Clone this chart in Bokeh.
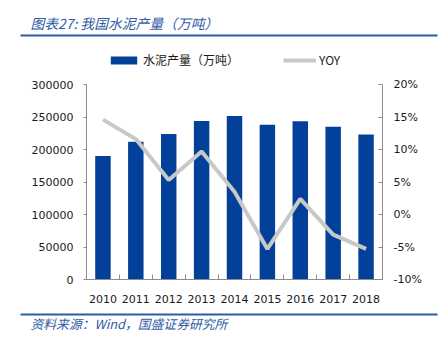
from bokeh.plotting import figure
from bokeh.layouts import column
from bokeh.models import (ColumnDataSource, Range1d, LinearAxis, FixedTicker,
                          PrintfTickFormatter, Legend, LegendItem, Label)
from bokeh.embed import file_html
from bokeh.resources import INLINE
import numpy as np

years = ["2010", "2011", "2012", "2013", "2014", "2015", "2016", "2017", "2018"]
production = [190000, 212000, 224000, 244000, 251500, 238000, 243500, 235000, 223000]
yoy = [14.6, 11.6, 5.3, 9.7, 3.5, -5.3, 2.4, -3.1, -5.3]
left_ticks = [0, 50000, 100000, 150000, 200000, 250000, 300000]
right_ticks = [-10, -5, 0, 5, 10, 15, 20]
title_text = "图表27: 我国水泥产量（万吨）"
source_text = "资料来源：Wind，国盛证券研究所"
series_names = ["水泥产量（万吨）", "YOY"]

BLUE = "#02409A"
GREY = "#C8C8C8"
AXIS = "#8C8C8C"
TXT = "#1A1A1A"
TITLE_BLUE = "#2E5AA6"
FONT = "DejaVu Sans"
CJK = "Noto Sans CJK SC"

W = 445
HEAD_H = 74
FOOT_H = 33
MAIN_H = 338 - HEAD_H - FOOT_H


def blank(h):
    f = figure(width=W, height=h, output_backend="svg", toolbar_location=None,
               x_range=Range1d(0, W), y_range=Range1d(h, 0),
               min_border=0, x_axis_type=None, y_axis_type=None, frame_align=False)
    f.outline_line_color = None
    f.xgrid.visible = False
    f.ygrid.visible = False
    return f


# ---------- header: title, rule, legend ----------
head = blank(HEAD_H)
head.add_layout(Label(x=30, y=22, text=title_text, text_font=CJK, text_font_style="italic",
                      text_font_size="13.8px", text_color=TITLE_BLUE, text_baseline="middle"))
head.segment(x0=[20], y0=[35], x1=[437], y1=[35], line_color=TITLE_BLUE, line_width=2)
dummy_bar = head.vbar(x=[np.nan], top=[np.nan], width=1, fill_color=BLUE, line_color=None)
dummy_line = head.line(x=[np.nan], y=[np.nan], line_color=GREY, line_width=4)
legend = Legend(items=[LegendItem(label=series_names[0], renderers=[dummy_bar]),
                       LegendItem(label=series_names[1], renderers=[dummy_line])],
                orientation="horizontal", location=(107, 6),
                glyph_width=33, glyph_height=10, label_standoff=3, spacing=44,
                padding=0, margin=0, border_line_color=None, background_fill_alpha=0,
                label_text_font=CJK, label_text_font_size="12px", label_text_color=TXT,
                label_height=10)
head.add_layout(legend, "center")

# ---------- main chart ----------
n = len(years)
xs = np.arange(n) + 0.5
src = ColumnDataSource(dict(x=xs, prod=production, yoy=yoy))

p = figure(width=W, height=MAIN_H, output_backend="svg", toolbar_location=None,
           x_range=Range1d(0, n), y_range=Range1d(0, 300000),
           min_border_left=86, min_border_right=63, min_border_top=10,
           min_border_bottom=MAIN_H - 205,
           x_axis_type=None, y_axis_type=None, frame_align=False)
p.outline_line_color = None
p.xgrid.visible = False
p.ygrid.visible = False
p.extra_y_ranges = {"yoy": Range1d(-10, 20)}

p.vbar(x="x", top="prod", width=0.47, source=src, fill_color=BLUE, line_color=None)
p.line(x="x", y="yoy", source=src, y_range_name="yoy", line_color=GREY, line_width=4)

xa = LinearAxis(ticker=FixedTicker(ticks=list(xs), minor_ticks=list(range(1, n))))
xa.major_label_overrides = {float(x): y for x, y in zip(xs, years)}
xa.major_tick_line_color = None
xa.minor_tick_in = 5
xa.minor_tick_out = 0
xa.minor_tick_line_color = AXIS
xa.axis_line_color = AXIS
xa.major_label_text_font = FONT
xa.major_label_text_font_size = "11px"
xa.major_label_text_color = TXT
xa.major_label_standoff = 9
p.add_layout(xa, "below")

ya = LinearAxis(ticker=FixedTicker(ticks=left_ticks), formatter=PrintfTickFormatter(format="%d"))
ya.axis_line_color = AXIS
ya.major_tick_line_color = AXIS
ya.major_tick_out = 3
ya.major_tick_in = 0
ya.minor_tick_line_color = None
ya.major_label_text_font = FONT
ya.major_label_text_font_size = "11px"
ya.major_label_text_color = TXT
ya.major_label_standoff = 10
p.add_layout(ya, "left")

ra = LinearAxis(y_range_name="yoy", ticker=FixedTicker(ticks=right_ticks),
                formatter=PrintfTickFormatter(format="%d%%"))
ra.axis_line_color = AXIS
ra.major_tick_line_color = AXIS
ra.major_tick_out = 0
ra.major_tick_in = 4
ra.minor_tick_line_color = None
ra.major_label_text_font = FONT
ra.major_label_text_font_size = "11px"
ra.major_label_text_color = TXT
ra.major_label_standoff = 11
p.add_layout(ra, "right")

# ---------- footer ----------
foot = blank(FOOT_H)
foot.segment(x0=[20], y0=[9], x1=[437], y1=[9], line_color=TITLE_BLUE, line_width=2)
foot.add_layout(Label(x=30, y=18, text=source_text, text_font=CJK, text_font_style="italic",
                      text_font_size="12.8px", text_color=TITLE_BLUE, text_baseline="middle"))

layout = column(head, p, foot, spacing=0)
open("out.html", "w").write(file_html(layout, INLINE))
